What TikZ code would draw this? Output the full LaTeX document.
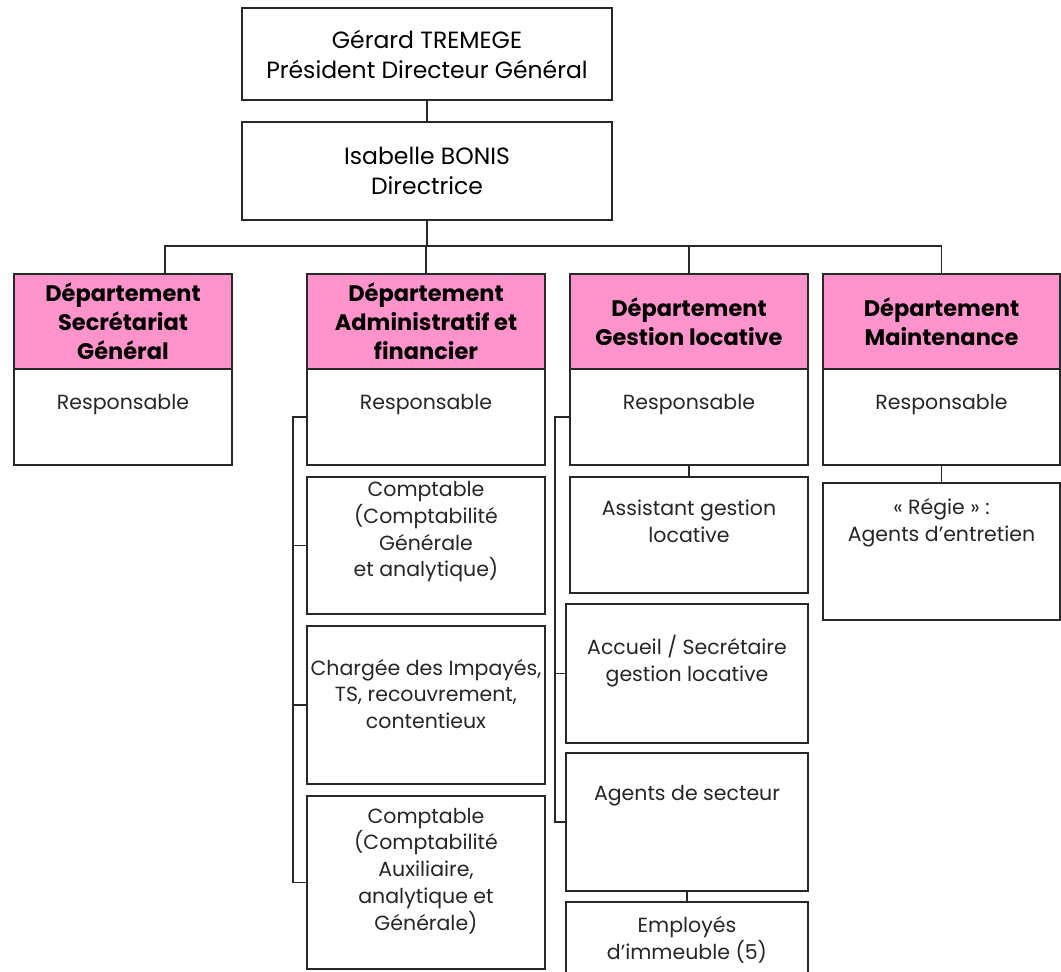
\documentclass[tikz,border=0pt]{standalone}
\usepackage{fontspec}
\setmainfont{Poppins}
\usepackage{tikz}
\usetikzlibrary{
    positioning,
    calc
}
\definecolor{deptpink}{RGB}{255, 148, 204}
\definecolor{trait}{RGB}{40, 40, 40}

\begin{document}
\begin{tikzpicture}[
    x=1pt, y=-1pt,
    boite/.style={rectangle, draw=trait, line width=1.3pt, fill=white, inner sep=0pt, outer sep=0pt,
                  anchor=north west, align=center, font=\fontsize{23.5}{30}\selectfont},
    dept/.style={boite, fill=deptpink, font=\fontsize{22.5}{29}\selectfont\bfseries},
    poste/.style={inner sep=0pt, align=center, font=\fontsize{20.5}{26.7}\selectfont, text=black!85},
    lien/.style={draw=trait, line width=1.2pt}
]
\useasboundingbox (0,0) rectangle (1061,972);
\clip (0,0) rectangle (1061,972);

% ============================================
% DIRECTION
% ============================================
\node[boite, minimum width=370pt, minimum height=92pt] (pdg) at (242,8)
    {Gérard TREMEGE\\Président Directeur Général};
\node[boite, minimum width=370pt, minimum height=98pt] (dir) at (242,122)
    {Isabelle BONIS\\Directrice};

\draw[lien] (pdg) -- (dir);
\draw[lien] (dir.south) -- ++(0,26) coordinate (bus);

% ============================================
% DEPARTEMENTS (en-tetes roses)
% ============================================
\node[dept, minimum width=218pt, minimum height=95pt] (dsg) at (14,274)
    {Département\\Secrétariat\\Général};
\node[dept, minimum width=238pt, minimum height=95pt] (daf) at (307,274)
    {Département\\Administratif et\\financier};
\node[dept, minimum width=238pt, minimum height=95pt] (dgl) at (570,274)
    {Département\\Gestion locative};
\node[dept, minimum width=237pt, minimum height=95pt] (dmt) at (823,274)
    {Département\\Maintenance};

% Bus horizontal
\draw[lien] (bus) -| ([xshift=42pt]dsg.north);
\draw[lien] (bus) -| (dmt.north);
\draw[lien] (bus -| daf.north) -- (daf.north);
\draw[lien] (bus -| dgl.north) -- (dgl.north);

% ============================================
% RESPONSABLES
% ============================================
\node[boite, minimum width=218pt, minimum height=96pt] (rsg) at (dsg.south west) {};
\node[boite, minimum width=238pt, minimum height=96pt] (raf) at (daf.south west) {};
\node[boite, minimum width=238pt, minimum height=96pt] (rgl) at (dgl.south west) {};
\node[boite, minimum width=237pt, minimum height=96pt] (rmt) at (dmt.south west) {};

\foreach \r in {rsg, raf, rgl, rmt} {
    \node[poste] (\r-t) at ($(\r.north)+(0,36)$) {Responsable};
}

% ============================================
% ADMINISTRATIF ET FINANCIER
% ============================================
\node[boite, minimum width=238pt, minimum height=137pt] (cpt1) at (307,477) {};
\node[poste] (cpt1-t) at ($(cpt1.north)+(0,55)$)
    {Comptable\\(Comptabilité\\Générale\\et analytique)};

\node[boite, minimum width=238pt, minimum height=158pt] (imp) at (307,626) {};
\node[poste] (imp-t) at ($(imp.north)+(0,68)$)
    {Chargée des Impayés,\\TS, recouvrement,\\contentieux};

\node[boite, minimum width=238pt, minimum height=173pt] (cpt2) at (307,796) {};
\node[poste] (cpt2-t) at ($(cpt2.north)+(0,75)$)
    {Comptable\\(Comptabilité\\Auxiliaire,\\analytique et\\Générale)};

% Accolade a gauche
\draw[lien] (raf.west) -- ++(-14,0) |- (cpt2.west);
\draw[lien] (cpt1.west) -- ++(-14,0);
\draw[lien] (imp.west) -- ++(-14,0);

% ============================================
% GESTION LOCATIVE
% ============================================
\node[boite, minimum width=238pt, minimum height=116pt] (asst) at (570,477) {};
\node[poste] (asst-t) at ($(asst.north)+(0,44)$) {Assistant gestion\\locative};

\node[boite, minimum width=242pt, minimum height=139pt] (acc) at (566,604) {};
\node[poste] (acc-t) at ($(acc.north)+(0,57)$) {Accueil / Secrétaire\\gestion locative};

\node[boite, minimum width=242pt, minimum height=138pt] (agt) at (566,753) {};
\node[poste] (agt-t) at ($(agt.north)+(0,43)$) {Agents de secteur};

\node[boite, minimum width=242pt, minimum height=80pt] (emp) at (566,902) {};
\node[poste] (emp-t) at ($(emp.north)+(0,38)$) {Employés\\d’immeuble (5)};

\draw[lien] (rgl) -- (asst);
\draw[lien] (agt) -- (emp);
\draw[lien] (rgl.west) -- ++(-15,0) |- (agt.west);
\draw[lien] (acc.west) -- ++(-11,0);

% ============================================
% MAINTENANCE
% ============================================
\node[boite, minimum width=237pt, minimum height=137pt] (reg) at (823,483) {};
\node[poste] (reg-t) at ($(reg.north)+(0,40)$) {« Régie » :\\Agents d’entretien};

\draw[lien] (rmt) -- (reg);

\end{tikzpicture}
\end{document}
